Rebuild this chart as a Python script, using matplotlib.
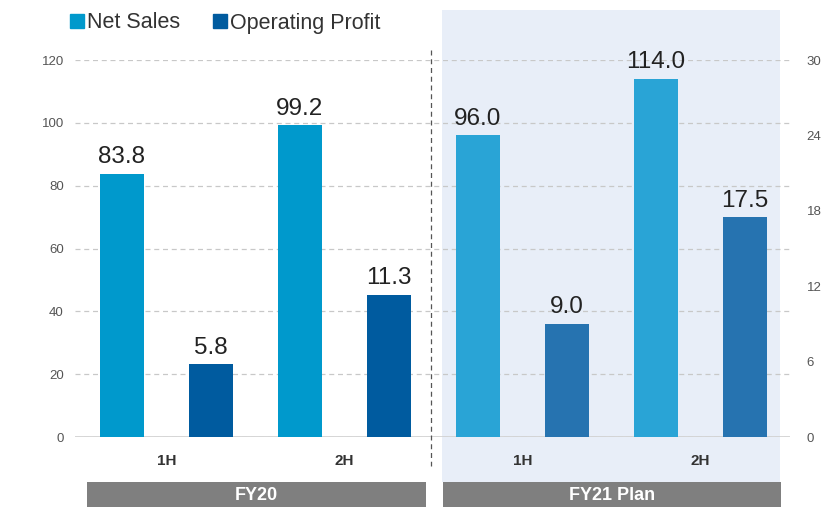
import matplotlib.pyplot as plt
from matplotlib.patches import Rectangle
from matplotlib.lines import Line2D

plt.rcParams['font.family'] = ['Liberation Sans', 'DejaVu Sans']

periods = ['1H', '2H', '1H', '2H']
net_sales = [83.8, 99.2, 96.0, 114.0]
op_profit = [5.8, 11.3, 9.0, 17.5]
groups = ['FY20', 'FY21 Plan']
left_ticks = [0, 20, 40, 60, 80, 100, 120]
right_ticks = [0, 6, 12, 18, 24, 30]

ns_colors = ['#0099cc', '#0099cc', '#29a4d6', '#29a4d6']
op_colors = ['#005b9f', '#005b9f', '#2673b0', '#2673b0']

fig = plt.figure(figsize=(8.29, 5.09), dpi=100)

# shaded plan area (behind the axes)
fig.patches.append(Rectangle((442 / 829, 1 - 482 / 509), 338 / 829, 472 / 509,
                             transform=fig.transFigure, facecolor='#e8eef8',
                             edgecolor='none', zorder=0))

ax = fig.add_axes([75 / 829, 72 / 509, 715 / 829, 377 / 509])
ax.set_facecolor('none')
ax2 = ax.twinx()
ax.set_zorder(1)
ax2.set_zorder(2)
ax2.patch.set_visible(False)

ns_x = [0, 2, 4, 6]
op_x = [1, 3, 5, 7]
w = 0.5

ax.bar(ns_x, net_sales, width=w, color=ns_colors, zorder=3)
ax2.bar(op_x, op_profit, width=w, color=op_colors, zorder=3)

for x, v in zip(ns_x, net_sales):
    ax.annotate(f'{v:.1f}', (x, v), xytext=(0, 4), textcoords='offset points',
                ha='center', va='bottom', fontsize=17.5, color='#222222')
for x, v in zip(op_x, op_profit):
    ax2.annotate(f'{v:.1f}', (x, v), xytext=(0, 4), textcoords='offset points',
                 ha='center', va='bottom', fontsize=17.5, color='#222222')

ax.set_ylim(0, 120)
ax2.set_ylim(0, 30)
ax.set_xlim(-0.528, 7.506)
ax.set_yticks(left_ticks)
ax2.set_yticks(right_ticks)
ax.set_xticks([])
ax.yaxis.grid(True, linestyle=(0, (4, 3)), color='#c8c8c8', linewidth=0.9, zorder=0)
ax.axhline(0, color='#d0d0d0', linewidth=1.2, zorder=2)

for a in (ax, ax2):
    for s in a.spines.values():
        s.set_visible(False)
    a.tick_params(length=0, labelsize=9.5, labelcolor='#555555')
ax.tick_params(axis='y', pad=8)
ax2.tick_params(axis='y', pad=12)

# half-year labels
for i, p in enumerate(periods):
    fig.text((122 + 89 * (2 * i + 0.5)) / 829, 1 - 461 / 509, p, ha='center',
             va='center', fontsize=11, fontweight='bold', color='#333333')

# divider line
fig.add_artist(Line2D([431 / 829, 431 / 829], [1 - 50 / 509, 1 - 466 / 509],
                      transform=fig.transFigure, color='#555555',
                      linewidth=0.9, linestyle=(0, (4, 3))))

# group boxes
box_x = [(87, 426), (443, 781)]
for (x0, x1), g in zip(box_x, groups):
    fig.patches.append(Rectangle((x0 / 829, 1 - 507 / 509), (x1 - x0) / 829, 25 / 509,
                                 transform=fig.transFigure, facecolor='#7f7f7f',
                                 edgecolor='none'))
    fig.text((x0 + x1) / 2 / 829, 1 - 495 / 509, g, ha='center', va='center',
             fontsize=13, fontweight='bold', color='white')

handles = [Rectangle((0, 0), 1, 1, color='#0099cc'), Rectangle((0, 0), 1, 1, color='#005b9f')]
fig.legend(handles, ['Net Sales', 'Operating Profit'], loc='center left',
           bbox_to_anchor=(70 / 829, 1 - 23 / 509), ncol=2, frameon=False,
           fontsize=15.5, handlelength=0.65, handleheight=0.6, handletextpad=0.15,
           columnspacing=1.5, borderpad=0, borderaxespad=0, labelcolor='#333333')

fig.savefig('out.png', dpi=100)
